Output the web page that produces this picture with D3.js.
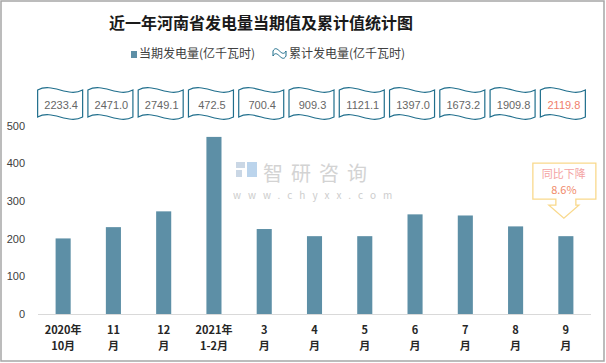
<!DOCTYPE html>
<html>
<head>
<meta charset="utf-8">
<script src="https://cdn.jsdelivr.net/npm/d3@7"></script>
<style>
  body { margin: 0; background: #fff; }
  svg { display: block; font-family: "Noto Sans CJK SC", "Noto Sans", sans-serif; }
</style>
</head>
<body>
<svg id="chart" width="606" height="363"></svg>
<script>
// data
const months = ["2020年\n10月", "11\n月", "12\n月", "2021年\n1-2月", "3\n月", "4\n月", "5\n月", "6\n月", "7\n月", "8\n月", "9\n月"];
const current = [201, 231, 273, 471, 226, 207, 207, 265, 262, 233, 207];
const cumulative = ["2233.4", "2471.0", "2749.1", "472.5", "700.4", "909.3", "1121.1", "1397.0", "1673.2", "1909.8", "2119.8"];
const yTicks = [0, 100, 200, 300, 400, 500];
const calloutLines = ["同比下降", "8.6%"];

const W = 606, H = 363;
const barColor = "#5d8fa6";
const waveColor = "#1f6e8c";

const svg = d3.select("#chart");

// outer border
svg.append("rect")
  .attr("x", 1).attr("y", 1)
  .attr("width", W - 3).attr("height", H - 3)
  .attr("fill", "#fff")
  .attr("stroke", "#a6a6a6")
  .attr("stroke-width", 1.5);

// title
svg.append("text")
  .attr("x", 261).attr("y", 29)
  .attr("text-anchor", "middle")
  .style("font-size", "16px")
  .style("font-weight", "bold")
  .style("fill", "#1a1a1a")
  .text("近一年河南省发电量当期值及累计值统计图");

const x = d3.scaleBand()
  .domain(months.map((d, i) => i))
  .range([38, 591])
  .paddingInner(0.7)
  .paddingOuter(0.35);

const y = d3.scaleLinear()
  .domain([0, 500])
  .range([314, 126]);

// watermark
const wm = svg.append("g").attr("opacity", 0.9);
wm.append("rect").attr("x", 236).attr("y", 162).attr("width", 9).attr("height", 6).attr("fill", "#c5d3e3");
wm.append("rect").attr("x", 236).attr("y", 170).attr("width", 6).attr("height", 7).attr("fill", "#c5d3e3");
wm.append("rect").attr("x", 247).attr("y", 162).attr("width", 10).attr("height", 15).attr("fill", "#b4d0ea");
wm.append("text")
  .attr("x", 263).attr("y", 181)
  .style("font-size", "20px")
  .style("letter-spacing", "8px")
  .style("fill", "#cfcfcf")
  .text("智研咨询");
wm.append("text")
  .attr("x", 233).attr("y", 199)
  .style("font-size", "10px")
  .style("letter-spacing", "7px")
  .style("fill", "#c8c8c8")
  .text("www.chyxx.com");

// y labels
svg.append("g")
  .selectAll("text")
  .data(yTicks)
  .join("text")
  .attr("x", 25)
  .attr("y", d => y(d))
  .attr("dy", "0.35em")
  .attr("text-anchor", "end")
  .style("font-family", "'Liberation Sans', sans-serif")
  .style("font-size", "11px")
  .style("fill", "#404040")
  .text(d => d);

// baseline
svg.append("line")
  .attr("x1", 38).attr("x2", 591)
  .attr("y1", y(0) + 0.5).attr("y2", y(0) + 0.5)
  .attr("stroke", "#d9d9d9");

// bars
svg.append("g")
  .selectAll("rect")
  .data(current)
  .join("rect")
  .attr("x", (d, i) => x(i))
  .attr("y", d => y(d))
  .attr("width", x.bandwidth())
  .attr("height", d => y(0) - y(d))
  .attr("fill", barColor);

// x labels (two lines)
const xl = svg.append("g")
  .selectAll("text")
  .data(months)
  .join("text")
  .attr("x", (d, i) => x(i) + x.bandwidth() / 2)
  .attr("text-anchor", "middle")
  .style("font-size", "11px")
  .style("font-weight", "bold")
  .style("fill", "#262626");
xl.each(function(d) {
  const parts = d.split("\n");
  d3.select(this).selectAll("tspan")
    .data(parts)
    .join("tspan")
    .attr("x", d3.select(this).attr("x"))
    .attr("y", (p, j) => 334 + j * 16)
    .text(p => p);
});

// wave flag path
function wavePath(x0, y0, w, h) {
  const a = 3, d = 8;
  const x1 = x0 + w, y1 = y0 + h;
  return `M${x0},${y0 + a}` +
    `C${x0 + w / 3},${y0 + a - d} ${x0 + 2 * w / 3},${y0 + a + d} ${x1},${y0 + a}` +
    `L${x1},${y1 - a}` +
    `C${x0 + 2 * w / 3},${y1 - a + d} ${x0 + w / 3},${y1 - a - d} ${x0},${y1 - a}Z`;
}

// cumulative flags
const flags = svg.append("g")
  .selectAll("g")
  .data(cumulative)
  .join("g")
  .attr("transform", (d, i) => `translate(${x(i) + x.bandwidth() / 2 - 3},0)`);
flags.append("path")
  .attr("d", wavePath(-22.5, 87, 45, 33))
  .attr("fill", "#fff")
  .attr("stroke", waveColor)
  .attr("stroke-width", 1.2);
flags.append("text")
  .attr("x", 1).attr("y", 105)
  .attr("dy", "0.35em")
  .attr("text-anchor", "middle")
  .style("font-family", "'Liberation Sans', sans-serif")
  .style("font-size", "11px")
  .style("fill", (d, i) => i === cumulative.length - 1 ? "#f0806c" : "#666")
  .text(d => d);

// legend
const lg = svg.append("g");
lg.append("rect").attr("x", 131).attr("y", 51).attr("width", 6).attr("height", 7).attr("fill", barColor);
lg.append("text").attr("x", 139).attr("y", 54).attr("dy", "0.35em")
  .style("font-size", "12px").style("fill", "#404040")
  .text("当期发电量(亿千瓦时)");
lg.append("path").attr("d", wavePath(273, 48, 13, 11))
  .attr("fill", "#fff").attr("stroke", waveColor).attr("stroke-width", 1);
lg.append("text").attr("x", 289).attr("y", 54).attr("dy", "0.35em")
  .style("font-size", "12px").style("fill", "#404040")
  .text("累计发电量(亿千瓦时)");

// callout above last bar
const li = current.length - 1;
const cx = x(li) + x.bandwidth() / 2 - 2;
const tip = y(current[li]) - 18;
const bTop = tip - 55, bBot = tip - 19;
const callout = `M${cx - 31},${bTop} L${cx + 32},${bTop} L${cx + 32},${bBot} L${cx + 12},${bBot}` +
  ` L${cx + 12},${bBot + 6} L${cx + 15},${bBot + 6} L${cx},${tip} L${cx - 15},${bBot + 6}` +
  ` L${cx - 8},${bBot + 6} L${cx - 8},${bBot} L${cx - 31},${bBot}Z`;
svg.append("path")
  .attr("d", callout)
  .attr("fill", "#fff")
  .attr("stroke", "#f9d98c")
  .attr("stroke-width", 1.3);
svg.append("g")
  .selectAll("text")
  .data(calloutLines)
  .join("text")
  .attr("x", cx)
  .attr("y", (d, i) => bTop + 11 + i * 16)
  .attr("dy", "0.35em")
  .attr("text-anchor", "middle")
  .style("font-size", "11px")
  .style("fill", (d, i) => i === 0 ? "#f4a3a3" : "#f08a6a")
  .text(d => d);
</script>
</body>
</html>
